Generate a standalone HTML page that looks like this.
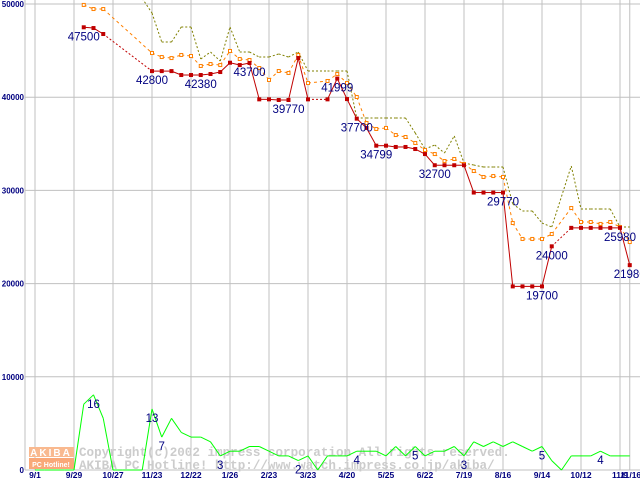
<!DOCTYPE html>
<html><head><meta charset="utf-8"><style>
html,body{margin:0;padding:0;background:#fff;}
svg{display:block;}
</style></head><body>
<svg id="chart" width="640" height="480" viewBox="0 0 640 480" xmlns="http://www.w3.org/2000/svg" font-family="Liberation Sans, sans-serif">
<g id="grid"></g>
<g id="watermark">
  <rect x="29" y="447" width="45" height="10" fill="#f9b98f"/>
  <rect x="29" y="458" width="45" height="11" fill="#f9a878"/>
  <text x="51" y="456" font-size="10" font-weight="bold" fill="#fff" text-anchor="middle" letter-spacing="2">AKIBA</text>
  <text x="51" y="467" font-size="7" font-weight="bold" fill="#fff" text-anchor="middle">PC Hotline!</text>
  <text x="79" y="456" font-family="Liberation Mono, monospace" font-size="12.6" font-weight="bold" fill="#cccccc">Copyright(c)2002 impress corporation All rights reserved.</text>
  <text x="79" y="469" font-family="Liberation Mono, monospace" font-size="12.6" font-weight="bold" fill="#cccccc">AKIBA PC Hotline!  http://www.watch.impress.co.jp/akiba/</text>
</g>
<g id="series"></g>
<g id="labels"></g>
<g id="axes"></g>
</svg>
<script>
const xTickLabels = ["9/1","9/29","10/27","11/23","12/22","1/26","2/23","3/23","4/20","5/25","6/22","7/19","8/16","9/14","10/12","11/9"];
const lastTickLabel = "11/16";
const yTickValues = [0,10000,20000,30000,40000,50000];
const minPrice = [null,null,null,null,null,47500,47420,46780,null,null,null,null,42800,42800,42800,42380,42380,42380,42490,42700,43700,43450,43670,39770,39770,39700,39700,44200,39770,null,39770,41999,39800,37700,36700,34799,34799,34660,34660,34440,33900,32700,32700,32700,32700,29770,29770,29770,29770,19700,19700,19700,19700,24000,null,25980,25980,25980,25980,25980,25980,21980];
const avgPrice = [null,null,null,null,null,49900,49460,49460,null,null,null,null,44740,44310,44200,44530,44420,43350,43560,43450,44960,44100,43990,43130,41850,42810,42600,44530,41520,null,41740,42490,41520,40020,37230,36590,36700,35940,35730,35090,34330,33900,33150,33370,32830,32080,31440,31540,31440,26500,24790,24790,24790,25320,null,28110,26610,26610,26400,26610,26070,24460];
const maxPrice = [null,null,null,null,null,53000,53000,53000,null,null,null,50600,49030,45920,45920,47530,47530,44100,44850,43880,47530,44850,44850,44310,44310,44640,44310,44850,42810,null,42810,42810,42810,37770,37770,37770,37770,37770,37770,36160,34440,34870,34010,35840,32940,32720,32510,32510,32510,28540,27790,27790,26500,26070,null,32620,28000,28000,28000,28000,26070,26070];
const shopCount = [0,0,0,0,0,14,16,11,0,0,0,0,13,7,11,8,7,7,6,3,4,4,5,5,4,3,3,2,3,0,3,3,3,4,4,4,3,5,3,5,3,4,4,5,3,6,5,6,5,6,5,4,5,2,0,3,3,3,4,3,3,3];
const priceLabelWeeks = [5,12,17,22,26,31,33,35,41,48,52,53,60,61];
const priceLabelTexts = ["47500","42800","42380","43700","39770","41999","37700","34799","32700","29770","19700","24000","25980","21980"];
const countLabelWeeks = [6,12,13,19,27,33,39,44,52,58];
const countLabelTexts = ["16","13","7","3","2","4","5","3","5","4"];

const NS="http://www.w3.org/2000/svg";
const xW = w => 35 + w*9.75;
const yP = v => 470 - v*0.00932;
const yC = c => 470 - c*4.7;
function mk(tag, attrs, parent){const e=document.createElementNS(NS,tag);for(const k in attrs)e.setAttribute(k,attrs[k]);parent.appendChild(e);return e;}
const grid=document.getElementById('grid'), axes=document.getElementById('axes'), series=document.getElementById('series'), labels=document.getElementById('labels');

yTickValues.forEach(v=>{
  const l=mk('line',{x1:25,x2:640,y1:yP(v),y2:yP(v),stroke:'#c0c0c0','stroke-width':1},grid);
  
  
  const t=mk('text',{x:24,y:yP(v)+3,'text-anchor':'end','font-size':8,'font-weight':'bold',fill:'#000080'},axes);
  t.textContent=String(v);
  
  
});
const axisLine=mk('line',{x1:25,x2:25,y1:0,y2:470,stroke:'#c0c0c0'},grid);


xTickLabels.forEach((lab,k)=>{
  const x=35+39*k;
  const l=mk('line',{x1:x,x2:x,y1:0,y2:470,stroke:'#c0c0c0'},grid);
  
  
  const t=mk('text',{x:x,y:478,'text-anchor':'middle','font-size':8.5,'font-weight':'bold',fill:'#000080'},axes);
  t.textContent=lab;
  
  
});
{
  const x=xW(61);
  const l=mk('line',{x1:x,x2:x,y1:0,y2:470,stroke:'#c0c0c0'},grid);
  
  
  const t=mk('text',{x:x+1,y:478,'text-anchor':'middle','font-size':8.5,'font-weight':'bold',fill:'#000080'},axes);
  t.textContent=lastTickLabel;
  
  
}

function drawLine(arr, yf, color, dashNormal, dashGap, name){
  let prev=null;
  arr.forEach((v,i)=>{
    if(v===null) return;
    if(prev!==null){
      const gap = i-prev>1;
      const d = gap?dashGap:dashNormal;
      const a={x1:xW(prev),y1:yf(arr[prev]),x2:xW(i),y2:yf(v),stroke:color,'stroke-width':1};
      if(d) a['stroke-dasharray']=d;
      const l=mk('line',a,series);
      
      
    }
    prev=i;
  });
}
drawLine(shopCount, yC, '#00ff00', null, null, 'count-line');
drawLine(maxPrice, yP, '#808000', '2,2', '2,2', 'max-price-line');
drawLine(avgPrice, yP, '#ff8000', '3,3', '3,3', 'avg-price-line');
drawLine(minPrice, yP, '#c00000', null, '2,2', 'min-price-line');
avgPrice.forEach((v,i)=>{ if(v===null) return;
  const r=mk('rect',{x:xW(i)-1.5,y:yP(v)-1.5,width:3,height:3,fill:'#fff',stroke:'#ff8000','stroke-width':1},series);
  
  
});
minPrice.forEach((v,i)=>{ if(v===null) return;
  const r=mk('rect',{x:xW(i)-2,y:yP(v)-2,width:4,height:4,fill:'#c00000'},series);
  
  
});
priceLabelWeeks.forEach((w,k)=>{
  const t=mk('text',{x:xW(w),y:yP(minPrice[w]!==null?minPrice[w]:0)+13,'text-anchor':'middle','font-size':11.5,fill:'#000080'},labels);
  t.textContent=priceLabelTexts[k];
  
  
});
countLabelWeeks.forEach((w,k)=>{
  const t=mk('text',{x:xW(w),y:yC(shopCount[w])+13,'text-anchor':'middle','font-size':11.5,fill:'#000080'},labels);
  t.textContent=countLabelTexts[k];
  
  
});
</script>
</body></html>
